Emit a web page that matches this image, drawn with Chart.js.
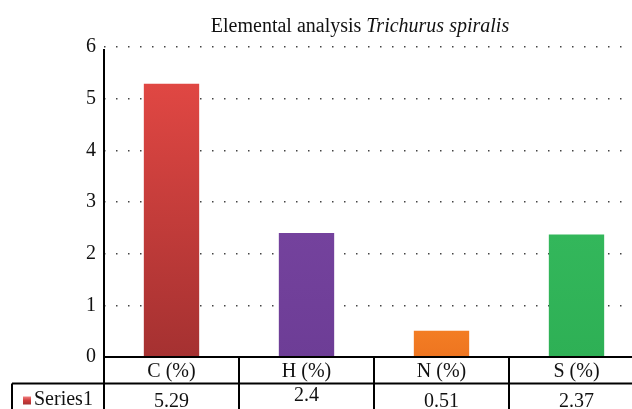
<!DOCTYPE html>
<html>
<head>
<meta charset="utf-8">
<script src="https://cdn.jsdelivr.net/npm/chart.js@4/dist/chart.umd.min.js"></script>
<style>
    html, body { margin: 0; padding: 0; background: #fff; overflow: hidden; }
    #wrap { width: 632px; height: 409px; overflow: hidden; }
</style>
</head>
<body>
<div id="wrap"><canvas id="chart" width="644" height="409"></canvas></div>
<script>
const categories = ['C (%)', 'H (%)', 'N (%)', 'S (%)'];
const seriesName = 'Series1';
const values = [5.29, 2.4, 0.51, 2.37];
const valueLabels = ['5.29', '2.4', '0.51', '2.37'];
const yTicks = [0, 1, 2, 3, 4, 5, 6];
const topColors = ['#e04743', '#74429d', '#f37d24', '#33b75b'];
const bottomColors = ['#a53131', '#6d3d96', '#ee7520', '#2eb055'];

const serif = "'Liberation Serif', 'DejaVu Serif', serif";

const tablePlugin = {
    id: 'tablePlugin',
    afterDraw(chart) {
        const { ctx, chartArea } = chart;
        const x = chart.scales.x;
        const left = chartArea.left, bottom = chartArea.bottom;
        const rowH = 26.5;
        const tableLeft = 12;
        const half = (x.getPixelForValue(1) - x.getPixelForValue(0)) / 2;

        ctx.save();
        ctx.strokeStyle = '#000';
        ctx.lineWidth = 2;
        // y axis
        ctx.beginPath();
        ctx.moveTo(left, chartArea.top + 2);
        ctx.lineTo(left, chart.height);
        ctx.stroke();
        // x axis and table rows
        ctx.beginPath();
        ctx.moveTo(left, bottom);
        ctx.lineTo(chart.width, bottom);
        ctx.moveTo(tableLeft, bottom + rowH);
        ctx.lineTo(chart.width, bottom + rowH);
        ctx.moveTo(tableLeft, bottom + rowH);
        ctx.lineTo(tableLeft, chart.height);
        ctx.stroke();
        // column separators
        categories.forEach((c, i) => {
            const px = x.getPixelForValue(i) + half;
            ctx.beginPath();
            ctx.moveTo(px, bottom);
            ctx.lineTo(px, chart.height);
            ctx.stroke();
        });

        ctx.fillStyle = '#111';
        ctx.font = '20px ' + serif;
        ctx.textAlign = 'center';
        ctx.textBaseline = 'middle';
        categories.forEach((c, i) => {
            const px = x.getPixelForValue(i);
            ctx.fillText(c, px, bottom + 15);
            ctx.fillText(valueLabels[i], px, bottom + rowH + (i === 1 ? 12 : 18));
        });

        // legend key
        const ky = bottom + rowH + 13;
        const g = ctx.createLinearGradient(0, ky, 0, ky + 8);
        g.addColorStop(0, '#f08080');
        g.addColorStop(0.5, '#d03c3c');
        g.addColorStop(1, '#a53131');
        ctx.fillStyle = g;
        ctx.fillRect(23, ky, 8, 8);
        ctx.fillStyle = '#111';
        ctx.textAlign = 'left';
        ctx.fillText(seriesName, 34, bottom + rowH + 16);

        // title
        const t1 = 'Elemental analysis ';
        const t2 = 'Trichurus spiralis';
        ctx.font = '20px ' + serif;
        const w1 = ctx.measureText(t1).width;
        ctx.font = 'italic 20px ' + serif;
        const w2 = ctx.measureText(t2).width;
        const start = 360 - (w1 + w2) / 2;
        ctx.textBaseline = 'alphabetic';
        ctx.font = '20px ' + serif;
        ctx.fillText(t1, start, 32);
        ctx.font = 'italic 20px ' + serif;
        ctx.fillText(t2, start + w1, 32);
        ctx.restore();
    }
};

function barFill(context) {
    const chart = context.chart;
    const area = chart.chartArea;
    if (!area) return topColors[context.dataIndex];
    const i = context.dataIndex;
    const top = chart.scales.y.getPixelForValue(values[i]);
    const g = chart.ctx.createLinearGradient(0, top, 0, area.bottom);
    g.addColorStop(0, topColors[i]);
    g.addColorStop(1, bottomColors[i]);
    return g;
}

new Chart(document.getElementById('chart'), {
    type: 'bar',
    data: {
        labels: categories,
        datasets: [{
            label: seriesName,
            data: values,
            backgroundColor: barFill,
            borderWidth: 0,
            barPercentage: 0.41,
            categoryPercentage: 1,
        }],
    },
    options: {
        responsive: false,
        animation: false,
        layout: { padding: { top: 47, left: 0, right: 0, bottom: 0 } },
        plugins: { legend: { display: false }, tooltip: { enabled: false }, title: { display: false } },
        scales: {
            x: {
                ticks: { display: false },
                grid: { display: false },
                border: { display: false },
                afterFit: (s) => { s.height = 52; },
            },
            y: {
                min: 0,
                max: 6,
                afterBuildTicks: (s) => { s.ticks = yTicks.map((v) => ({ value: v })); },
                ticks: { color: '#111', font: { family: serif, size: 20 }, padding: 8 },
                grid: {
                    drawTicks: false,
                    lineWidth: 1.5,
                    color: (c) => (c.tick && c.tick.value === 0 ? 'rgba(0,0,0,0)' : '#444'),
                },
                border: { display: false, dash: [1.5, 10.5] },
                afterFit: (s) => { s.width = 104; },
            },
        },
    },
    plugins: [tablePlugin],
});
</script>
</body>
</html>
